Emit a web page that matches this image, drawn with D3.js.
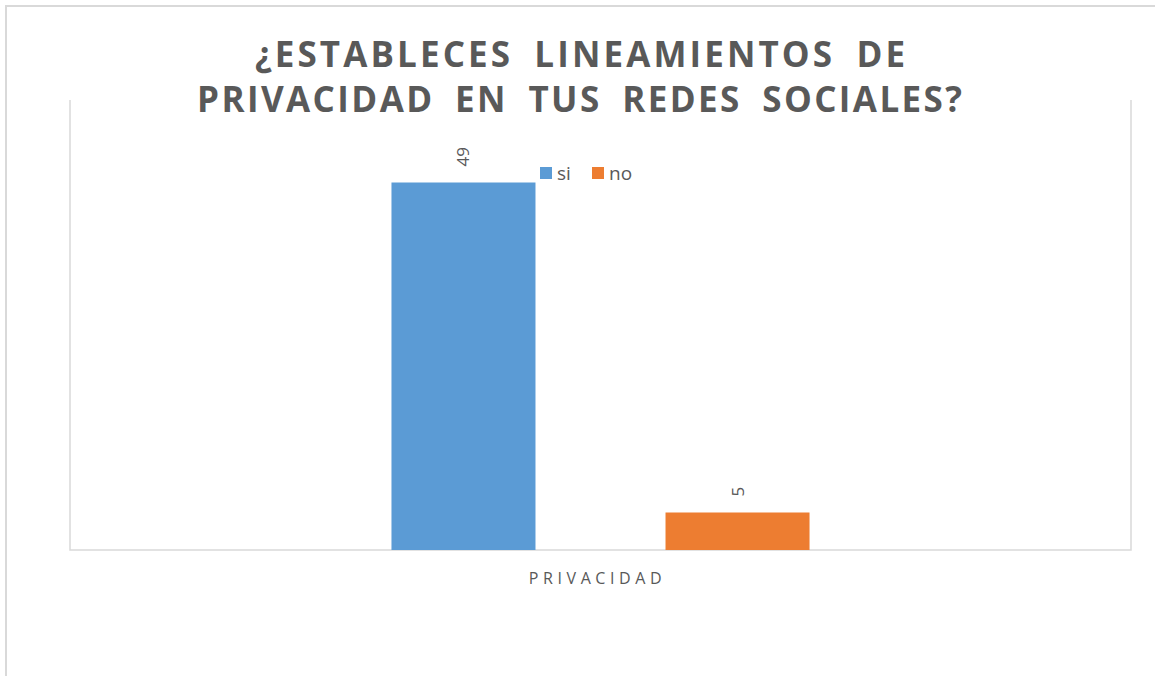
<!DOCTYPE html>
<html>
<head>
<meta charset="utf-8">
<script src="https://cdnjs.cloudflare.com/ajax/libs/d3/7.8.5/d3.min.js"></script>
<style>
  body { margin: 0; background: #fff; }
  text { font-family: "Open Sans", "Liberation Sans", sans-serif; }
</style>
</head>
<body>
<div id="chart"></div>
<script>
var categories = ["PRIVACIDAD"];
var seriesNames = ["si", "no"];
var seriesColors = ["#5b9bd5", "#ed7d31"];
var siValues = [49];
var noValues = [5];
var titleLines = ["¿ESTABLECES LINEAMIENTOS DE", "PRIVACIDAD EN TUS REDES SOCIALES?"];

var width = 1155, height = 676;
var plot = {left: 70, right: 1131, top: 100, bottom: 550};

var svg = d3.select('#chart')
  .append('svg')
    .attr('width', width)
    .attr('height', height);

// chart border
svg.append('rect')
  .attr('x', 6).attr('y', 6)
  .attr('width', 1170).attr('height', 700)
  .attr('fill', 'none')
  .attr('stroke', '#d9d9d9')
  .attr('stroke-width', 2);

var x0 = d3.scaleBand()
  .domain(categories)
  .range([plot.left, plot.right])
  .paddingInner(0)
  .paddingOuter(0.769);

var x1 = d3.scaleBand()
  .domain(seriesNames)
  .range([0, x0.bandwidth()])
  .paddingInner(0.4745)
  .paddingOuter(0);

var y = d3.scaleLinear()
  .domain([0, 60])
  .range([plot.bottom, plot.top]);

var color = d3.scaleOrdinal().domain(seriesNames).range(seriesColors);

// plot area frame (left, right, bottom)
svg.append('path')
  .attr('d', 'M' + plot.left + ',' + plot.top + 'V' + plot.bottom + 'H' + plot.right + 'V' + plot.top)
  .attr('fill', 'none')
  .attr('stroke', '#d9d9d9')
  .attr('stroke-width', 1.5);

var rows = categories.map(function(c, i) {
  return {cat: c, values: [{key: "si", value: siValues[i]}, {key: "no", value: noValues[i]}]};
});

var groups = svg.append('g').selectAll('g')
  .data(rows)
  .enter().append('g')
    .attr('transform', function(d) { return 'translate(' + x0(d.cat) + ',0)'; });

groups.selectAll('rect')
  .data(function(d) { return d.values; })
  .enter().append('rect')
    .attr('x', function(d) { return x1(d.key); })
    .attr('y', function(d) { return y(d.value); })
    .attr('width', x1.bandwidth())
    .attr('height', function(d) { return y(0) - y(d.value); })
    .attr('fill', function(d) { return color(d.key); });

// rotated value labels
groups.selectAll('text.val')
  .data(function(d) { return d.values; })
  .enter().append('text')
    .attr('class', 'val')
    .attr('transform', function(d) {
      return 'translate(' + (x1(d.key) + x1.bandwidth() / 2 + 6) + ',' + (y(d.value) - 16) + ') rotate(-90)';
    })
    .attr('fill', '#595959')
    .attr('font-size', 17)
    .text(function(d) { return d.value; });

// category axis label
svg.append('g')
  .attr('transform', 'translate(0,' + plot.bottom + ')')
  .call(d3.axisBottom(x0).tickSize(0).tickPadding(0))
  .call(function(g) {
    g.select('.domain').remove();
    g.selectAll('text')
      .attr('dy', 34)
      .attr('dx', -3)
      .attr('fill', '#595959')
      .attr('font-size', 16)
      .attr('letter-spacing', 4.6)
      .style('font-family', '"Open Sans", sans-serif');
  });

// title
svg.append('g').selectAll('text')
  .data(titleLines)
  .enter().append('text')
    .attr('x', function(d, i) { return i == 0 ? 255 : 197; })
    .attr('y', function(d, i) { return i == 0 ? 67 : 112; })
    .attr('textLength', function(d, i) { return i == 0 ? 650 : 765; })
    .attr('lengthAdjust', 'spacing')
    .attr('word-spacing', 9)
    .attr('font-size', 35)
    .attr('font-weight', 'bold')
    .attr('fill', '#595959')
    .text(function(d) { return d; });

// legend
var legend = svg.append('g').selectAll('g')
  .data(seriesNames)
  .enter().append('g')
    .attr('transform', function(d, i) { return 'translate(' + (540 + i * 52) + ',167)'; });

legend.append('rect')
  .attr('width', 12).attr('height', 12)
  .attr('fill', function(d) { return color(d); });

legend.append('text')
  .attr('x', 17).attr('y', 13)
  .attr('font-size', 19)
  .attr('fill', '#595959')
  .text(function(d) { return d; });
</script>
</body>
</html>
